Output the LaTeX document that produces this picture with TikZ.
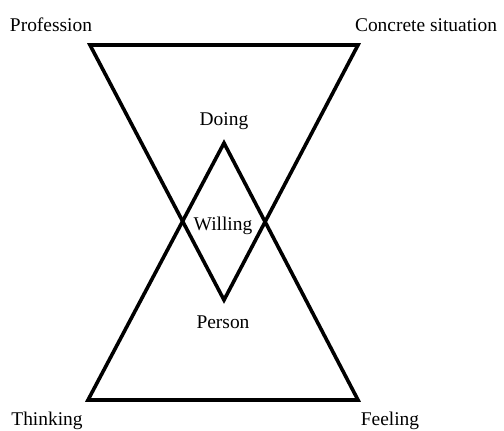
\documentclass[tikz,border=0pt]{standalone}
\usepackage{fontspec}
\setmainfont{Liberation Serif}
\begin{document}
\begin{tikzpicture}[x=1bp,y=-1bp,
  lbl/.style={anchor=base,inner sep=0pt,font=\fontsize{19.5}{22}\selectfont},
  tri/.style={line width=3.6bp,line join=miter,black}]
\useasboundingbox (0,0) rectangle (504,430);
\coordinate (tl) at (90,45);
\coordinate (tr) at (358,45);
\coordinate (ta) at (224,300);
\coordinate (bl) at (88,400);
\coordinate (br) at (358,400);
\coordinate (ba) at (224,143);
\draw[tri] (tl) -- (tr) -- (ta) -- cycle;
\draw[tri] (bl) -- (br) -- (ba) -- cycle;
\node[lbl] (prof) at (51,31) {Profession};
\node[lbl] (conc) at (426,31) {Concrete situation};
\node[lbl] (think) at (47,425) {Thinking};
\node[lbl] (feel) at (390,425) {Feeling};
\node[lbl] (doing) at (224,125) {Doing};
\node[lbl] (will) at (223,230) {Willing};
\node[lbl] (pers) at (223,328) {Person};
\end{tikzpicture}
\end{document}
